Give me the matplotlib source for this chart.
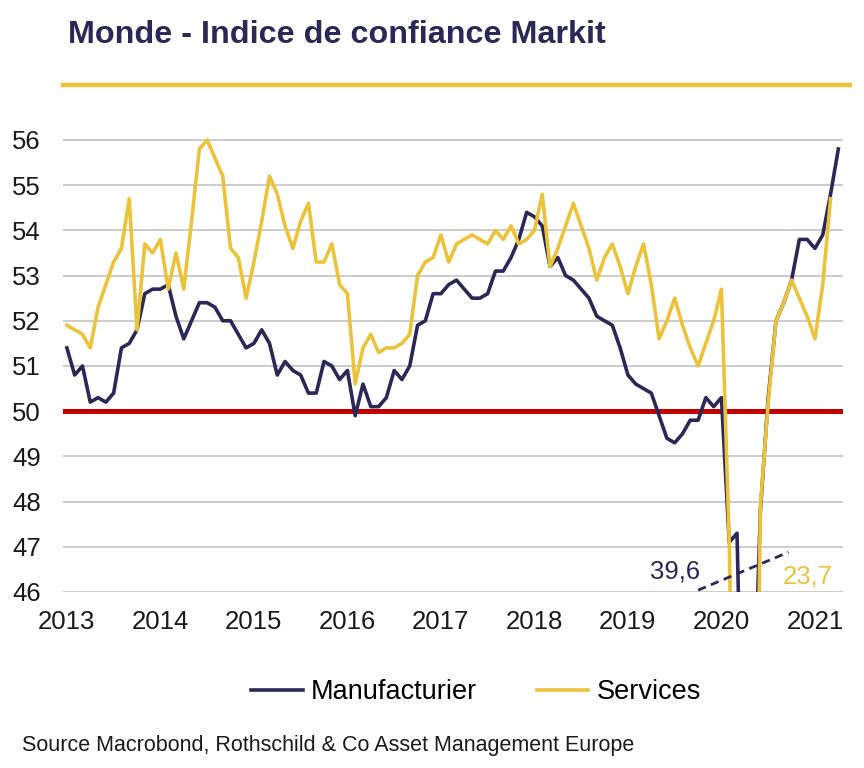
import numpy as np
import matplotlib.pyplot as plt
from matplotlib.lines import Line2D

plt.rcParams['font.family'] = ['Liberation Sans', 'DejaVu Sans']

# %% Data (monthly, Jan 2013 -> Apr 2021)
years = ['2013', '2014', '2015', '2016', '2017', '2018', '2019', '2020', '2021']

manuf = [51.4, 50.8, 51.0, 50.2, 50.3, 50.2, 50.4, 51.4, 51.5, 51.8, 52.6, 52.7,
         52.7, 52.8, 52.1, 51.6, 52.0, 52.4, 52.4, 52.3, 52.0, 52.0, 51.7, 51.4,
         51.5, 51.8, 51.5, 50.8, 51.1, 50.9, 50.8, 50.4, 50.4, 51.1, 51.0, 50.7,
         50.9, 49.9, 50.6, 50.1, 50.1, 50.3, 50.9, 50.7, 51.0, 51.9, 52.0, 52.6,
         52.6, 52.8, 52.9, 52.7, 52.5, 52.5, 52.6, 53.1, 53.1, 53.4, 53.8, 54.4,
         54.3, 54.1, 53.2, 53.4, 53.0, 52.9, 52.7, 52.5, 52.1, 52.0, 51.9, 51.4,
         50.8, 50.6, 50.5, 50.4, 49.9, 49.4, 49.3, 49.5, 49.8, 49.8, 50.3, 50.1,
         50.3, 47.1, 47.3, 39.6, 42.4, 47.8, 50.3, 52.0, 52.4, 52.9, 53.8, 53.8,
         53.6, 53.9, 54.8, 55.8]

services = [51.9, 51.8, 51.7, 51.4, 52.3, 52.8, 53.3, 53.6, 54.7, 51.8, 53.7, 53.5,
            53.8, 52.7, 53.5, 52.7, 54.2, 55.8, 56.0, 55.6, 55.2, 53.6, 53.4, 52.5,
            53.3, 54.2, 55.2, 54.8, 54.1, 53.6, 54.2, 54.6, 53.3, 53.3, 53.7, 52.8,
            52.6, 50.6, 51.4, 51.7, 51.3, 51.4, 51.4, 51.5, 51.7, 53.0, 53.3, 53.4,
            53.9, 53.3, 53.7, 53.8, 53.9, 53.8, 53.7, 54.0, 53.8, 54.1, 53.7, 53.8,
            54.0, 54.8, 53.2, 53.6, 54.1, 54.6, 54.1, 53.6, 52.9, 53.4, 53.7, 53.2,
            52.6, 53.2, 53.7, 52.8, 51.6, 52.0, 52.5, 51.9, 51.4, 51.0, 51.5, 52.0,
            52.7, 47.1, 37.0, 23.7, 35.1, 47.9, 50.2, 52.0, 52.4, 52.9, 52.5, 52.1,
            51.6, 52.8, 54.7, np.nan]

t = np.arange(len(manuf))

navy = '#2b2858'
gold = '#ebc33a'
red = '#c00000'

# %% Figure
fig = plt.figure(figsize=(8.64, 7.68), dpi=100)
ax = fig.add_axes([0.0729, 0.2292, 0.9028, 0.6003])

ax.plot(t, manuf, color=navy, lw=2.6, label='Manufacturier', zorder=3)
ax.plot(t, services, color=gold, lw=2.6, label='Services', zorder=4)
ax.axhline(50, color=red, lw=3.6, zorder=2)

ax.set_xlim(-0.5, 99.6)
ax.set_ylim(46, 56.2)
ax.set_yticks(np.arange(46, 57, 1))
ax.set_xticks(t[::12])
ax.set_xticklabels(years)
ax.grid(axis='y', color='#bfbfbf', lw=1.1, zorder=1)
ax.set_axisbelow(True)
for s in ax.spines.values():
    s.set_visible(False)
ax.tick_params(axis='both', length=0, labelsize=18.5, colors='#1a1a1a')
ax.tick_params(axis='y', pad=16)
ax.tick_params(axis='x', pad=13)

# minimum annotations (values below the axis)
ax.plot([81.0, 92.6], [46.04, 46.88], color=navy, lw=2, ls=(0, (3, 2)),
        zorder=5, clip_on=False)
ax.text(78.0, 46.46, f"{np.nanmin(manuf):.1f}".replace('.', ','), color=navy,
        fontsize=18.5, ha='center', va='center')
ax.text(95.1, 46.35, f"{np.nanmin(services):.1f}".replace('.', ','), color=gold,
        fontsize=18.5, ha='center', va='center')

# title and rule
fig.text(68 / 864, 1 - 42.7 / 768, 'Monde - Indice de confiance Markit',
         weight='bold', fontsize=23.3, color=navy, va='baseline', ha='left')
fig.add_artist(Line2D([63 / 864, 850 / 864], [1 - 85 / 768, 1 - 85 / 768],
                      color=gold, lw=3.2, transform=fig.transFigure))

leg = fig.legend(loc='center', bbox_to_anchor=(476 / 864, 1 - 692 / 768), ncol=2,
                 frameon=False, fontsize=19.5, handlelength=1.9,
                 handletextpad=0.3, columnspacing=2.2)
for h in leg.get_lines():
    h.set_linewidth(2.6)

fig.text(22 / 864, 1 - 746 / 768,
         'Source Macrobond, Rothschild & Co Asset Management Europe',
         fontsize=15.5, color='#1a1a1a', va='center', ha='left')

plt.savefig('out.png')
